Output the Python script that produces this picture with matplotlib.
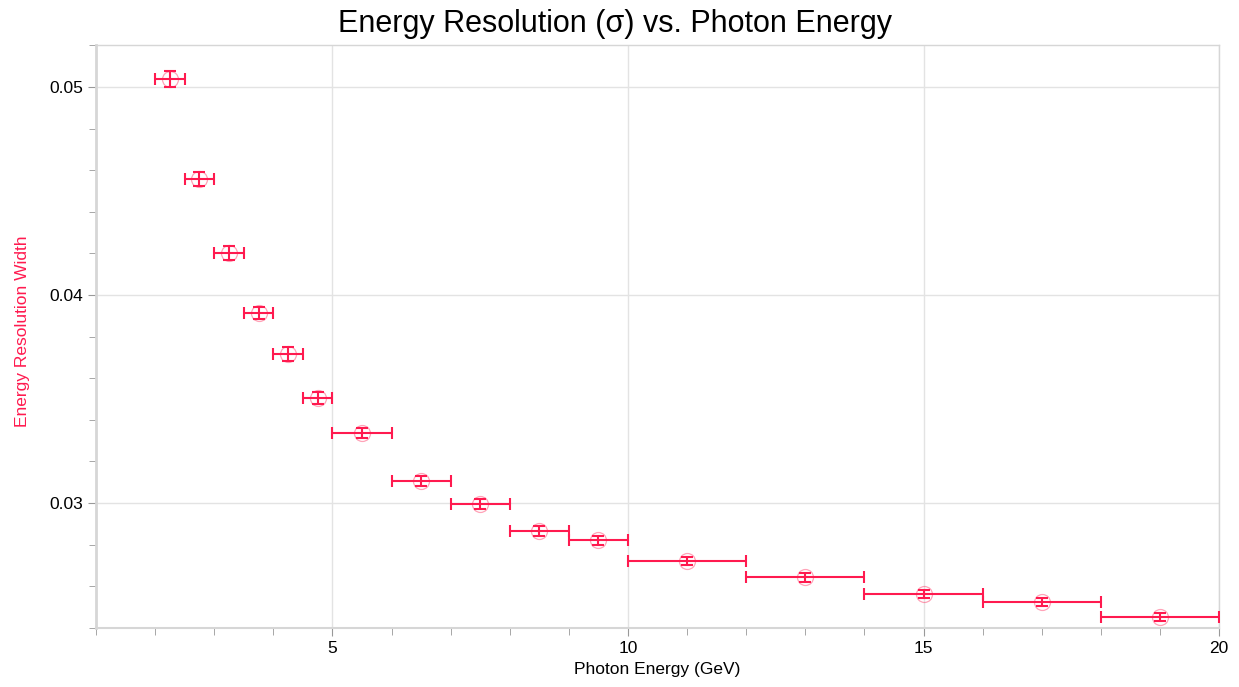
import numpy as np
import matplotlib
matplotlib.use('Agg')
import matplotlib.pyplot as plt
from matplotlib.ticker import MultipleLocator

# bin edges / centres in GeV
energy = [2.25, 2.75, 3.25, 3.75, 4.25, 4.75, 5.5, 6.5, 7.5, 8.5, 9.5,
          11, 13, 15, 17, 19]
energy_halfwidth = [0.25, 0.25, 0.25, 0.25, 0.25, 0.25, 0.5, 0.5, 0.5, 0.5, 0.5,
                    1, 1, 1, 1, 1]
width = [0.05038, 0.04558, 0.04202, 0.03913, 0.03716, 0.03505, 0.03337,
         0.03106, 0.02995, 0.02865, 0.02822, 0.02721, 0.02644, 0.02563,
         0.02525, 0.02452]
width_err = [0.00037, 0.00034, 0.00032, 0.00030, 0.00032, 0.00027, 0.00026,
             0.00025, 0.00024, 0.00024, 0.00022, 0.00021, 0.00021, 0.00020,
             0.00020, 0.00019]

red = '#ff1a4f'

plt.rcParams['font.family'] = ['Liberation Sans', 'DejaVu Sans']

fig, ax = plt.subplots(figsize=(12.39, 6.87), dpi=100)
fig.subplots_adjust(left=0.0775, right=0.984, top=0.934, bottom=0.086)

ax.plot(energy, width, 'o', ms=11.5, mfc='none', mec=red, alpha=0.4, mew=0.9, zorder=3)
ax.errorbar(energy, width, xerr=energy_halfwidth, yerr=width_err, fmt='none',
            ecolor=red, elinewidth=1.5, capsize=4.5, capthick=1.5, zorder=4)

ax.set_xlim(1, 20)
ax.set_ylim(0.024, 0.052)
ax.xaxis.set_major_locator(MultipleLocator(5))
ax.xaxis.set_minor_locator(MultipleLocator(1))
ax.yaxis.set_major_locator(MultipleLocator(0.01))
ax.yaxis.set_minor_locator(MultipleLocator(0.002))
ax.yaxis.set_major_formatter(plt.FuncFormatter(lambda v, p: f'{v:.2f}'))

ax.grid(True, which='major', color='#e3e3e3', lw=1)
ax.set_axisbelow(True)
for s in ax.spines.values():
    s.set_color('#d6d6d6')
    s.set_linewidth(1)
ax.spines['left'].set_linewidth(2)
ax.spines['bottom'].set_linewidth(1.5)
ax.tick_params(which='both', direction='out', color='#999999', labelsize=12.5)
ax.tick_params(which='major', length=6)
ax.tick_params(which='minor', length=5)

fig.text(0.496, 0.965, 'Energy Resolution (σ) vs. Photon Energy', fontsize=22,
         ha='center', va='center')
ax.set_xlabel('Photon Energy (GeV)', fontsize=12.5, labelpad=4)
ax.set_ylabel('Energy Resolution Width', fontsize=12.5, color=red)
ax.yaxis.set_label_coords(-0.059, 0.51)

fig.savefig('out.png', dpi=100)
